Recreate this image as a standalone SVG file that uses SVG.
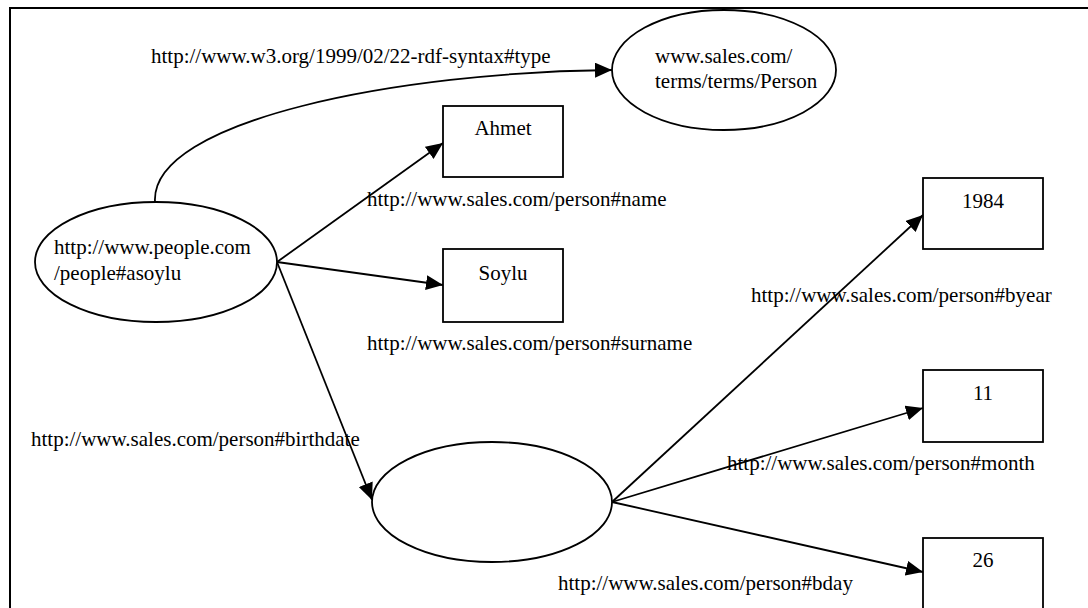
<svg xmlns="http://www.w3.org/2000/svg" width="1088" height="608" viewBox="0 0 1088 608">
  <style>
    .frame { fill: none; stroke: #000; stroke-width: 2; }
    .node { fill: #fff; stroke: #000; stroke-width: 1.8; }
    .edge { fill: none; stroke: #000; stroke-width: 1.8; marker-end: url(#arrow); }
    text { font-family: "Liberation Serif", "Times New Roman", serif; font-size: 21px; fill: #000; }
    .mid { text-anchor: middle; }
  </style>
  <defs>
    <marker id="arrow" markerUnits="userSpaceOnUse" markerWidth="17" markerHeight="15" refX="17" refY="7.5" orient="auto">
      <path d="M0,0 L17,7.5 L0,15 z" fill="#000"/>
    </marker>
  </defs>

  <rect class="frame" x="10" y="8" width="1100" height="700"/>

  <!-- connectors -->
  <g id="edges">
    <path class="edge" d="M155,202 C150,120 400,72 612,70"/>
    <line class="edge" x1="277" y1="262" x2="443" y2="143"/>
    <line class="edge" x1="277" y1="262" x2="443" y2="285"/>
    <line class="edge" x1="277" y1="262" x2="372" y2="500"/>
    <line class="edge" x1="612" y1="502" x2="923" y2="215"/>
    <line class="edge" x1="612" y1="502" x2="923" y2="408"/>
    <line class="edge" x1="612" y1="502" x2="923" y2="572"/>
  </g>

  <!-- edge labels -->
  <g id="edge-labels">
    <text x="151" y="63">http://www.w3.org/1999/02/22-rdf-syntax#type</text>
    <text x="367" y="206">http://www.sales.com/person#name</text>
    <text x="367" y="350">http://www.sales.com/person#surname</text>
    <text x="31" y="446">http://www.sales.com/person#birthdate</text>
    <text x="751" y="302">http://www.sales.com/person#byear</text>
    <text x="727" y="470">http://www.sales.com/person#month</text>
    <text x="558" y="590">http://www.sales.com/person#bday</text>
  </g>

  <!-- resources -->
  <g id="node-person-class">
    <ellipse class="node" cx="724" cy="70" rx="112" ry="60"/>
    <text x="655" y="63">www.sales.com/</text>
    <text x="655" y="88">terms/terms/Person</text>
  </g>
  <g id="node-asoylu">
    <ellipse class="node" cx="156" cy="262" rx="121" ry="60"/>
    <text x="54" y="254">http://www.people.com</text>
    <text x="54" y="280">/people#asoylu</text>
  </g>
  <g id="node-birthdate">
    <ellipse class="node" cx="492" cy="502" rx="120" ry="60"/>
  </g>

  <!-- literals -->
  <g id="node-ahmet">
    <rect class="node" x="443" y="106" width="120" height="71"/>
    <text class="mid" x="503" y="135">Ahmet</text>
  </g>
  <g id="node-soylu">
    <rect class="node" x="443" y="249" width="120" height="73"/>
    <text class="mid" x="503" y="280">Soylu</text>
  </g>
  <g id="node-1984">
    <rect class="node" x="923" y="178" width="120" height="71"/>
    <text class="mid" x="983" y="208">1984</text>
  </g>
  <g id="node-11">
    <rect class="node" x="923" y="370" width="120" height="72"/>
    <text class="mid" x="983" y="400">11</text>
  </g>
  <g id="node-26">
    <rect class="node" x="923" y="538" width="120" height="90"/>
    <text class="mid" x="983" y="567">26</text>
  </g>
</svg>
